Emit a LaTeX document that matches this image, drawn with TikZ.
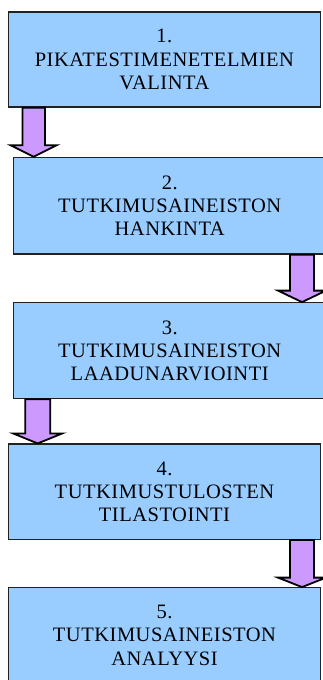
\documentclass[tikz,border=0pt]{standalone}
\usepackage{fontspec}
\setmainfont{Liberation Serif}[LetterSpace=2.5]
\usetikzlibrary{calc}
\definecolor{boxblue}{HTML}{99CCFF}
\definecolor{arrviolet}{HTML}{CC99FF}
\definecolor{edge}{HTML}{222222}
\newcommand\blockarrow[6]{% from, to, center x, shaft half, head half, head length
  \path (#3,0) coordinate (tmpx);
  \draw[arrowshape]
    ($(#1.south -| tmpx)+(-#4,0)$) --
    ($(#2.north -| tmpx)+(-#4,-#6)$) --
    ($(#2.north -| tmpx)+(-#5,-#6)$) --
    (#2.north -| tmpx) --
    ($(#2.north -| tmpx)+(#5,-#6)$) --
    ($(#2.north -| tmpx)+(#4,-#6)$) --
    ($(#1.south -| tmpx)+(#4,0)$) -- cycle;
}
\begin{document}
\begin{tikzpicture}[x=1pt,y=-1pt,
  stepbox/.style={draw=edge, line width=1.2pt, fill=boxblue, inner sep=0pt,
    align=center, font=\fontsize{20.5}{23.3}\selectfont},
  arrowshape/.style={draw=black, line width=1.8pt, fill=arrviolet, line join=miter}]
\useasboundingbox (0,0) rectangle (323,680);
\node[stepbox, minimum width=312.4pt, minimum height=95pt] (b1) at (164.4,59.5)
  {1.\\PIKATESTIMENETELMIEN\\VALINTA};
\node[stepbox, minimum width=312.7pt, minimum height=96.7pt] (b2) at (169.7,205.7)
  {2.\\TUTKIMUSAINEISTON\\HANKINTA};
\node[stepbox, minimum width=312.7pt, minimum height=96pt] (b3) at (169.7,350.7)
  {3.\\TUTKIMUSAINEISTON\\LAADUNARVIOINTI};
\node[stepbox, minimum width=312.4pt, minimum height=95.3pt] (b4) at (164.5,491.7)
  {4.\\TUTKIMUSTULOSTEN\\TILASTOINTI};
\node[stepbox, minimum width=312.4pt, minimum height=95pt] (b5) at (164.5,635.2)
  {5.\\TUTKIMUSAINEISTON\\ANALYYSI};
\blockarrow{b1}{b2}{33.7}{11.3}{23}{11.5}
\blockarrow{b2}{b3}{302}{12}{24}{11.5}
\blockarrow{b3}{b4}{37.7}{12.5}{24.5}{10}
\blockarrow{b4}{b5}{302}{12}{24}{9.5}
\end{tikzpicture}
\end{document}
